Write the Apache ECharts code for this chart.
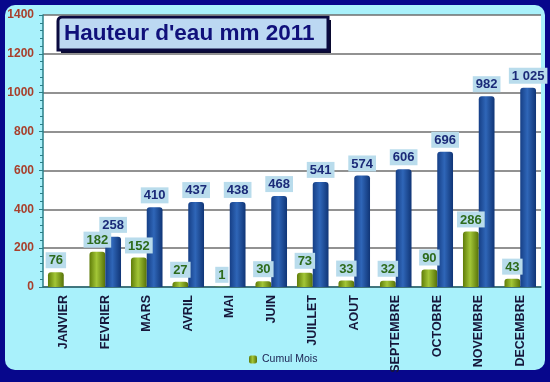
<!DOCTYPE html>
<html><head><meta charset="utf-8">
<script src="https://cdn.jsdelivr.net/npm/echarts@6/dist/echarts.min.js"></script>
<style>html,body{margin:0;padding:0;background:#07078c;}#c{width:550px;height:382px;}</style>
</head><body><div id="c"></div>
<script>
const months = ['JANVIER','FEVRIER','MARS','AVRIL','MAI','JUIN','JUILLET','AOUT','SEPTEMBRE','OCTOBRE','NOVEMBRE','DECEMBRE'];
const monthly = [76,182,152,27,1,30,73,33,32,90,286,43];
const cumul = [null,258,410,437,438,468,541,574,606,696,982,1025];
const yTicks = [0,200,400,600,800,1000,1200,1400];
const titleText = "Hauteur d'eau mm 2011";

const fmt = v => { const s = String(v); return s.length > 3 ? s.slice(0, s.length-3) + ' ' + s.slice(-3) : s; };
const chart = echarts.init(document.getElementById('c'), null, {renderer:'canvas'});
const font = 'Liberation Sans, Arial, sans-serif';
const labelBox = (color) => ({
  show: true, position: 'top', distance: 4,
  formatter: p => fmt(p.value),
  color: color, fontFamily: font, fontWeight: 'bold', fontSize: 13,
  backgroundColor: '#b9dcec', padding: [2, 3, 1, 3]
});
chart.setOption({
  backgroundColor: '#07078c',
  animation: false,
  graphic: [
    {type:'rect', z:-10, shape:{x:5,y:5,width:540,height:365,r:10}, style:{fill:'#a9f1fb'}},
    {type:'group', z:100, children:[
      {type:'rect', shape:{x:61,y:20,width:270,height:33,r:[4,0,0,0]}, style:{fill:'#0a0a30'}},
      {type:'rect', shape:{x:58,y:17,width:270,height:33,r:[4,0,0,0]}, style:{fill:'#bcd8f2', stroke:'#0a0a40', lineWidth:3}},
      {type:'text', style:{x:64, y:34, text:titleText, fill:'#10107a', font:'bold 22.5px Liberation Sans, Arial, sans-serif', textVerticalAlign:'middle'}}
    ]}
  ],
  grid: {left:43, top:15, right:9, bottom:95, show:true, backgroundColor:'#ffffff', borderWidth:0},
  legend: {
    data:['Cumul Mois'], left:244, top:349, itemWidth:8, itemHeight:8, itemGap:3,
    textStyle:{color:'#1a2050', fontFamily:font, fontSize:10.5}
  },
  xAxis: {
    type:'category', data: months,
    axisLine:{lineStyle:{color:'#2a6f78', width:1.5}},
    axisTick:{show:false},
    axisLabel:{rotate:90, interval:0, margin:8, color:'#16163a', fontFamily:font, fontWeight:'bold', fontSize:12.5}
  },
  yAxis: {
    type:'value', min:0, max:1400, interval:200,
    axisLine:{show:true, lineStyle:{color:'#2a7f88', width:1.5}},
    axisTick:{show:true, length:4, lineStyle:{color:'#2a7f88'}},
    minorTick:{show:true, splitNumber:5, length:3, lineStyle:{color:'#2a7f88'}},
    splitLine:{lineStyle:{color:'#6e6e6e', width:1.5}},
    axisLabel:{color:'#a8402c', fontFamily:font, fontWeight:'bold', fontSize:12, margin:9,
      formatter: v => yTicks.includes(v) ? String(v) : ''}
  },
  series: [
    {name:'Cumul Mois', type:'bar', data: monthly, barWidth:'38%', barGap:'0%',
     itemStyle:{borderRadius:[3,3,0,0], color: new echarts.graphic.LinearGradient(0,0,1,0,[
       {offset:0,color:'#5f7c08'},{offset:0.45,color:'#a3c637'},{offset:1,color:'#577208'}])},
     label: labelBox('#2d6b1c')},
    {name:'Cumul', type:'bar', data: cumul, barWidth:'38%', barGap:'0%',
     itemStyle:{borderRadius:[3,3,0,0], color: new echarts.graphic.LinearGradient(0,0,1,0,[
       {offset:0,color:'#163f86'},{offset:0.45,color:'#2f66b8'},{offset:1,color:'#103576'}])},
     label: labelBox('#1b2a78')}
  ]
});
</script></body></html>
